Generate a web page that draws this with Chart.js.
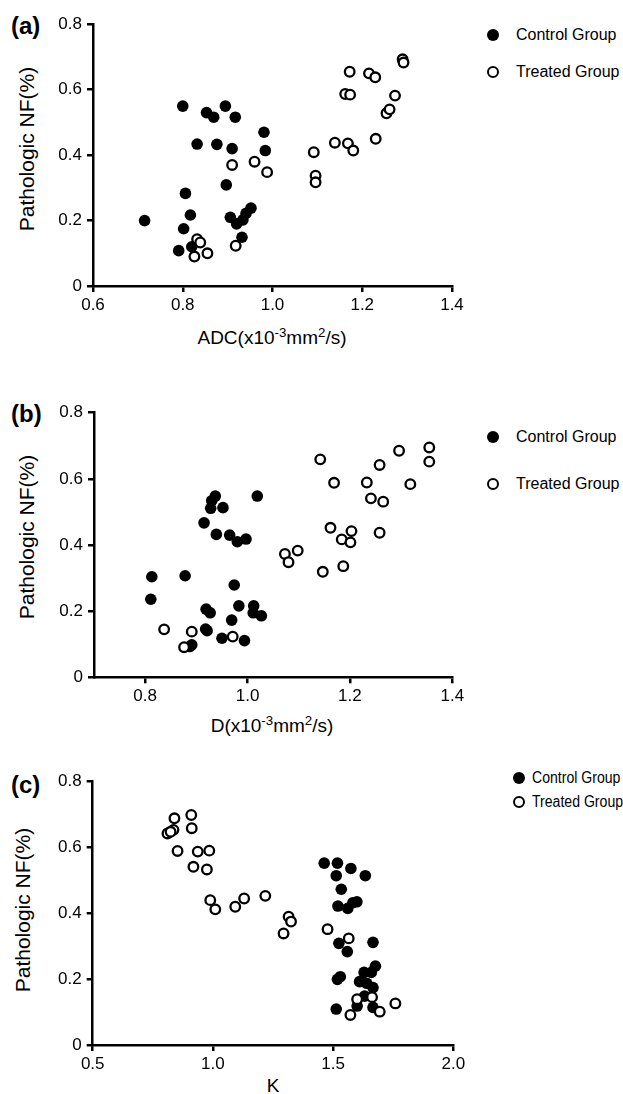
<!DOCTYPE html>
<html>
<head>
<meta charset="utf-8">
<script src="https://cdn.jsdelivr.net/npm/chart.js@4"></script>
<style>
  body { margin: 0; width: 623px; height: 1094px; background: #fff; position: relative; overflow: hidden;
         font-family: "Liberation Sans", Arial, Helvetica, sans-serif; color: #000; }
  canvas { position: absolute; left: 0; }
  .tag { position: absolute; font-weight: bold; font-size: 24px; line-height: 24px; }
  .ytitle { position: absolute; white-space: nowrap; font-size: 21px; line-height: 21px;
            transform: translate(-50%, -50%) rotate(-90deg); }
  .xtitle { position: absolute; white-space: nowrap; font-size: 19px; line-height: 20px; transform: translateX(-50%); }
  .xtitle sup { font-size: 0.7em; line-height: 0; vertical-align: 0.55em; }
  .leg { position: absolute; white-space: nowrap; font-size: 16px; line-height: 16px; }
  .leg i { position: absolute; width: 12px; height: 12px; border-radius: 50%; box-sizing: border-box; }
  .leg i.f { background: #000; }
  .leg i.o { border: 2.4px solid #000; background: #fff; }
</style>
</head>
<body>

<div class="tag" style="left:11px;top:14px">(a)</div>
<div class="tag" style="left:11px;top:402px">(b)</div>
<div class="tag" style="left:11px;top:773px">(c)</div>

<div class="ytitle" style="left:26px;top:149px">Pathologic NF(%)</div>
<div class="ytitle" style="left:26px;top:537px">Pathologic NF(%)</div>
<div class="ytitle" style="left:22px;top:910px">Pathologic NF(%)</div>

<div class="xtitle" style="left:272px;top:328px">ADC(x10<sup>-3</sup>mm<sup>2</sup>/s)</div>
<div class="xtitle" style="left:272px;top:716px">D(x10<sup>-3</sup>mm<sup>2</sup>/s)</div>
<div class="xtitle" style="left:273px;top:1076px">K</div>

<canvas id="chartA" width="470" height="330" style="top:0px"></canvas>
<canvas id="chartB" width="470" height="330" style="top:390px"></canvas>
<canvas id="chartC" width="470" height="330" style="top:760px"></canvas>

<script>
// Pathologic NF vs ADC
const adcControl = [
  [0.80, 0.55], [0.853, 0.53], [0.869, 0.516], [0.895, 0.55], [0.917, 0.516], [0.981, 0.47],
  [0.984, 0.414], [0.832, 0.434], [0.876, 0.433], [0.91, 0.42], [0.897, 0.309], [0.806, 0.283],
  [0.817, 0.217], [0.715, 0.2], [0.802, 0.175], [0.791, 0.108], [0.82, 0.12], [0.906, 0.21],
  [0.92, 0.19], [0.934, 0.202], [0.941, 0.222], [0.952, 0.238], [0.932, 0.149]
];
const adcTreated = [
  [0.91, 0.37], [0.96, 0.38], [0.988, 0.348], [0.832, 0.143], [0.839, 0.133], [0.826, 0.09],
  [0.855, 0.1], [0.918, 0.123], [1.092, 0.409], [1.096, 0.337], [1.096, 0.317], [1.139, 0.438],
  [1.168, 0.436], [1.18, 0.414], [1.23, 0.45], [1.172, 0.655], [1.162, 0.587], [1.173, 0.585],
  [1.215, 0.65], [1.229, 0.638], [1.29, 0.693], [1.292, 0.683], [1.273, 0.582], [1.254, 0.528],
  [1.261, 0.54]
];

// Pathologic NF vs D
const dControl = [
  [0.813, 0.304], [0.811, 0.236], [0.878, 0.307], [0.937, 0.548], [0.93, 0.534], [0.928, 0.511],
  [0.952, 0.513], [0.915, 0.467], [1.019, 0.548], [0.939, 0.432], [0.965, 0.43], [0.98, 0.41],
  [0.997, 0.418], [0.974, 0.279], [0.919, 0.206], [0.927, 0.195], [0.983, 0.216], [1.012, 0.216],
  [1.011, 0.195], [1.027, 0.186], [0.969, 0.173], [0.918, 0.146], [0.921, 0.141], [0.95, 0.118],
  [0.994, 0.111], [0.891, 0.098], [0.887, 0.093]
];
const dTreated = [
  [0.837, 0.145], [0.891, 0.138], [0.876, 0.091], [0.971, 0.123], [1.073, 0.373], [1.08, 0.348],
  [1.098, 0.383], [1.142, 0.659], [1.169, 0.588], [1.147, 0.319], [1.187, 0.336], [1.162, 0.452],
  [1.184, 0.417], [1.203, 0.442], [1.201, 0.408], [1.258, 0.437], [1.233, 0.589], [1.258, 0.642],
  [1.241, 0.541], [1.265, 0.531], [1.296, 0.685], [1.355, 0.695], [1.355, 0.652], [1.318, 0.584]
];

// Pathologic NF vs K
const kControl = [
  [1.463, 0.551], [1.518, 0.551], [1.574, 0.535], [1.513, 0.513], [1.634, 0.513], [1.534, 0.472],
  [1.52, 0.421], [1.561, 0.414], [1.582, 0.431], [1.599, 0.434], [1.524, 0.308], [1.559, 0.283],
  [1.666, 0.311], [1.53, 0.207], [1.518, 0.199], [1.676, 0.239], [1.629, 0.22], [1.659, 0.22],
  [1.61, 0.192], [1.64, 0.187], [1.666, 0.174], [1.631, 0.148], [1.6, 0.118], [1.513, 0.109],
  [1.666, 0.114]
];
const kTreated = [
  [0.84, 0.687], [0.91, 0.697], [0.912, 0.657], [0.811, 0.641], [0.836, 0.652], [0.824, 0.646],
  [0.853, 0.588], [0.937, 0.586], [0.985, 0.589], [0.919, 0.54], [0.975, 0.532], [0.989, 0.439],
  [1.01, 0.411], [1.093, 0.419], [1.13, 0.444], [1.218, 0.452], [1.315, 0.389], [1.325, 0.374],
  [1.294, 0.338], [1.477, 0.351], [1.565, 0.323], [1.6, 0.139], [1.572, 0.091], [1.662, 0.145],
  [1.694, 0.101], [1.759, 0.126]
];

const nfTicks = [0, 0.2, 0.4, 0.6, 0.8];
const adcTicks = [0.6, 0.8, 1.0, 1.2, 1.4];
const dTicks = [0.8, 1.0, 1.2, 1.4];
const kTicks = [0.5, 1.0, 1.5, 2.0];
const groupNames = ["Control Group", "Treated Group"];

function toPoints(arr) {
  return arr.map((p) => ({ x: p[0], y: p[1] }));
}

function axis(ticks, min, max, fixedSize, isX) {
  return {
    type: "linear",
    min: min,
    max: max,
    afterBuildTicks: (s) => { s.ticks = ticks.map((v) => ({ value: v })); },
    afterFit: (s) => { if (isX) s.height = fixedSize; else s.width = fixedSize; },
    grid: { display: true, drawOnChartArea: false, drawTicks: true, tickLength: 6, color: "#000", lineWidth: 2.5 },
    border: { display: true, color: "#000", width: 2.5 },
    ticks: {
      color: "#000",
      padding: isX ? 3 : 5,
      font: { family: "'Liberation Sans', Arial, sans-serif", size: 17 },
      callback: (v) => (v === 0 ? "0" : Number(v).toFixed(1)),
    },
  };
}

function makeChart(id, control, treated, xTicks, xMin, xMax, box) {
  new Chart(document.getElementById(id), {
    type: "scatter",
    data: {
      datasets: [
        {
          label: groupNames[1],
          data: toPoints(treated),
          order: 0,
          pointRadius: 4.8,
          pointBorderWidth: 2.3,
          pointBorderColor: "#000",
          pointBackgroundColor: "#fff",
        },
        {
          label: groupNames[0],
          data: toPoints(control),
          order: 1,
          pointRadius: 5.8,
          pointBorderWidth: 0,
          pointBackgroundColor: "#000",
        },
      ],
    },
    options: {
      responsive: false,
      animation: false,
      layout: { padding: { top: box.top, right: box.right, left: 0, bottom: 0 } },
      plugins: { legend: { display: false }, tooltip: { enabled: false } },
      scales: {
        x: axis(xTicks, xMin, xMax, box.xh, true),
        y: axis(nfTicks, 0, 0.8, box.yw, false),
      },
    },
  });
}

makeChart("chartA", adcControl, adcTreated, adcTicks, 0.6, 1.4, { top: 24.3, right: 18, xh: 44, yw: 93 });
makeChart("chartB", dControl, dTreated, dTicks, 0.7, 1.4, { top: 22.7, right: 17.7, xh: 42.7, yw: 94 });
makeChart("chartC", kControl, kTreated, kTicks, 0.5, 2.0, { top: 21, right: 16.7, xh: 45, yw: 92.7 });

// legends
const legends = [
  { top: 35, gap: 36.7, mx: 493, tx: 516, narrow: false },
  { top: 437, gap: 47, mx: 493, tx: 516, narrow: false },
  { top: 778, gap: 24, mx: 519, tx: 532, narrow: true },
];
legends.forEach((L) => {
  groupNames.forEach((name, i) => {
    const cy = L.top + i * L.gap;
    const d = document.createElement("div");
    d.className = "leg";
    d.style.left = L.tx + "px";
    d.style.top = cy - 8 + "px";
    if (L.narrow) { d.style.transform = "scaleX(0.88)"; d.style.transformOrigin = "left center"; }
    d.textContent = name;
    document.body.appendChild(d);
    const m = document.createElement("div");
    m.className = "leg";
    m.style.left = L.mx - 6 + "px";
    m.style.top = cy - 6 + "px";
    m.innerHTML = '<i class="' + (i === 0 ? "f" : "o") + '"></i>';
    document.body.appendChild(m);
  });
});
</script>
</body>
</html>
